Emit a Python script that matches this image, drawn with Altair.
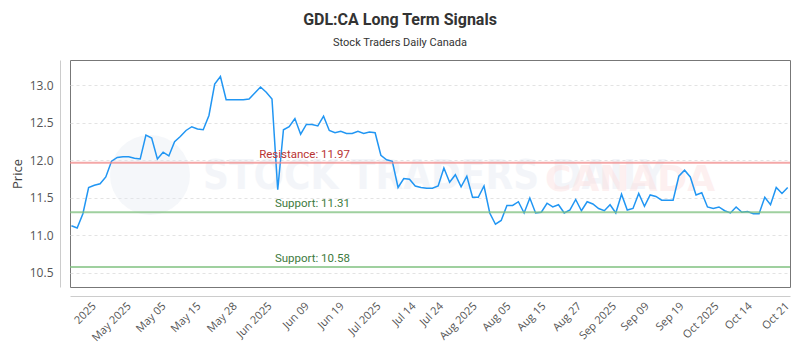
import altair as alt
import pandas as pd

# ---- data ----
prices = [11.13, 11.10, 11.29, 11.64, 11.67, 11.69, 11.78, 11.99, 12.04, 12.05, 12.05, 12.03, 12.02,
          12.34, 12.30, 12.02, 12.11, 12.06, 12.25, 12.32, 12.40, 12.45, 12.42, 12.41, 12.60,
          13.02, 13.12, 12.81, 12.81, 12.81, 12.81, 12.82, 12.90, 12.98, 12.91, 12.82, 11.61, 12.41,
          12.45, 12.56, 12.35, 12.48, 12.48, 12.46, 12.59, 12.40, 12.37, 12.39, 12.36, 12.36, 12.39,
          12.36, 12.38, 12.37, 12.07, 12.01, 11.99, 11.64, 11.76, 11.75, 11.66, 11.64, 11.63, 11.63,
          11.66, 11.90, 11.71, 11.81, 11.65, 11.79, 11.51, 11.51, 11.66, 11.30, 11.15, 11.20,
          11.40, 11.40, 11.45, 11.30, 11.50, 11.30, 11.31, 11.43, 11.38, 11.41, 11.30, 11.34, 11.48,
          11.33, 11.45, 11.42, 11.36, 11.33, 11.41, 11.30, 11.55, 11.34, 11.36, 11.56, 11.39,
          11.54, 11.52, 11.47, 11.47, 11.47, 11.79, 11.87, 11.78, 11.54, 11.57, 11.38, 11.36, 11.38,
          11.33, 11.30, 11.38, 11.31, 11.32, 11.29, 11.29, 11.51, 11.41, 11.64, 11.56, 11.64]

tick_index = [3.2, 9.3, 15.4, 21.5, 27.8, 33.9, 40.4, 46.5, 52.9, 59.0, 63.8, 69.7, 75.6, 81.7,
              87.9, 94.0, 99.7, 105.8, 111.9, 117.7, 124.2]
tick_labels = ["2025", "May 2025", "May 05", "May 15", "May 28", "Jun 2025", "Jun 09", "Jun 19",
               "Jul 2025", "Jul 14", "Jul 24", "Aug 2025", "Aug 05", "Aug 15", "Aug 27", "Sep 2025",
               "Sep 09", "Sep 19", "Oct 2025", "Oct 14", "Oct 21"]

level_names = ["Resistance", "Support", "Support"]
level_values = [11.97, 11.31, 10.58]
level_kinds = ["resistance", "support", "support"]

y_ticks = [10.5, 11.0, 11.5, 12.0, 12.5, 13.0]

# ---- tables ----
df = pd.DataFrame({"i": list(range(len(prices))), "price": prices})
levels = pd.DataFrame({
    "kind": level_kinds,
    "value": level_values,
    "label": [f"{n}: {v:.2f}" for n, v in zip(level_names, level_values)],
})

label_expr = "''"
for idx, lab in reversed(list(zip(tick_index, tick_labels))):
    label_expr = f"abs(datum.value - {idx}) < 0.01 ? '{lab}' : ({label_expr})"

x_scale = alt.Scale(domain=[-0.25, 125.4], nice=False, zero=False)
y_scale = alt.Scale(domain=[10.313, 13.34], nice=False, zero=False)

x_axis = alt.Axis(values=tick_index, labelExpr=label_expr, labelAngle=-45, grid=False, ticks=False,
                  domainColor="#cccccc", offset=9, labelColor="#555555", labelFontSize=11,
                  labelFont="Open Sans", title=None, labelPadding=4, labelOverlap=False)
y_axis = alt.Axis(values=y_ticks, format=".1f", grid=True, gridDash=[3, 3], gridColor="#e3e3e3",
                  ticks=False, domainColor="#cccccc", offset=10, labelColor="#555555",
                  labelFontSize=12, labelFont="Open Sans", labelPadding=7, title="Price",
                  titleFont="Open Sans", titleFontSize=13, titleFontWeight="normal",
                  titleColor="#444444", titlePadding=5)

# watermark
wm_logo = alt.Chart(pd.DataFrame({"a": [0]})).mark_point(
    shape="circle", filled=True, color="#e3e9f0", opacity=0.35, size=6400
).encode(x=alt.value(80), y=alt.value(115))
wm1 = alt.Chart(pd.DataFrame({"t": ["STOCK TRADERS DAILY"]})).mark_text(
    font="DejaVu Sans Condensed", fontSize=40, fontWeight="bold", color="#e6ebf2", opacity=0.45,
    align="left", baseline="middle"
).encode(text="t:N", x=alt.value(133), y=alt.value(117))
wm2 = alt.Chart(pd.DataFrame({"t": ["CANADA"]})).mark_text(
    font="DejaVu Sans", fontSize=36, fontWeight="bold", color="#fcdede", opacity=0.45,
    align="left", baseline="middle"
).encode(text="t:N", x=alt.value(475), y=alt.value(120))

line = alt.Chart(df).mark_line(color="#2196f3", strokeWidth=1.5).encode(
    x=alt.X("i:Q", scale=x_scale, axis=x_axis),
    y=alt.Y("price:Q", scale=y_scale, axis=y_axis),
)

rules = alt.Chart(levels).mark_rule(strokeWidth=2, opacity=0.75).encode(
    y=alt.Y("value:Q", scale=y_scale),
    color=alt.Color("kind:N", scale=alt.Scale(domain=["resistance", "support"],
                                              range=["#f08a8a", "#7fc07f"]), legend=None),
)

labels = alt.Chart(levels).mark_text(align="right", baseline="bottom", dy=-3, fontSize=11.5,
                                     font="Roboto").encode(
    y=alt.Y("value:Q", scale=y_scale),
    x=alt.value(280),
    text="label:N",
    color=alt.Color("kind:N", scale=alt.Scale(domain=["resistance", "support"],
                                              range=["#b83232", "#3d7a3d"]), legend=None),
)

chart = alt.layer(wm_logo, wm1, wm2, line, rules, labels).resolve_scale(color="independent").properties(
    width=720,
    height=227,
    autosize=alt.AutoSizeParams(type="none"),
    padding={"left": 70, "top": 60, "right": 10, "bottom": 63},
    title=alt.Title("GDL:CA Long Term Signals", subtitle="Stock Traders Daily Canada",
                    fontSize=16, fontWeight="bold", font="Roboto", color="#333333",
                    subtitleFont="Roboto", subtitleFontSize=11, subtitleColor="#333333",
                    anchor="middle", dx=-30, offset=12, subtitlePadding=9),
).configure_view(stroke="#777777", strokeWidth=1)

chart.save("out.html", embed_options={"renderer": "svg", "actions": False})
